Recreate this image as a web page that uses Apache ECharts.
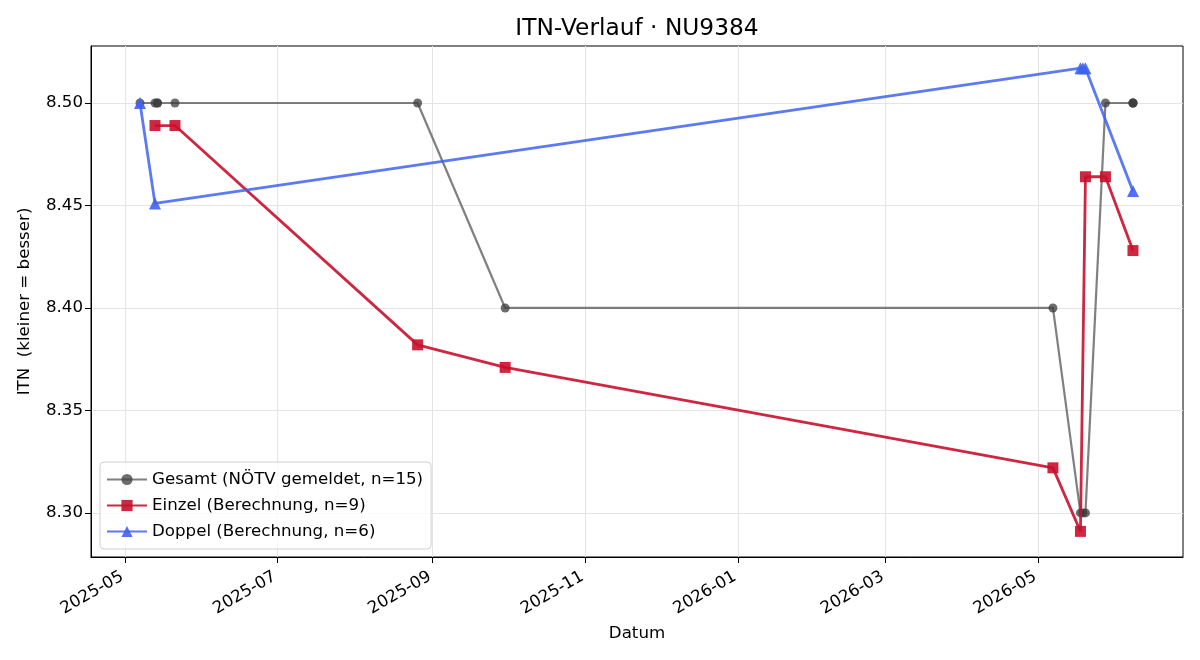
<!DOCTYPE html>
<html>
<head>
<meta charset="utf-8">
<script src="https://cdn.jsdelivr.net/npm/echarts@6/dist/echarts.min.js"></script>
<style>
  html, body { margin: 0; padding: 0; background: #fff; }
  #chart { width: 1200px; height: 660px; }
</style>
</head>
<body>
<div id="chart"></div>
<script>
// Gesamt (NÖTV gemeldet)
const gesamtDates = ["2025-05-07", "2025-05-13", "2025-05-14", "2025-05-14", "2025-05-21",
  "2025-08-26", "2025-09-30", "2026-05-07", "2026-05-18", "2026-05-19", "2026-05-20",
  "2026-05-28", "2026-06-08", "2026-06-08", "2026-06-08"];
const gesamtValues = [8.50, 8.50, 8.50, 8.50, 8.50, 8.50, 8.40, 8.40, 8.30, 8.30, 8.30,
  8.50, 8.50, 8.50, 8.50];

// Einzel (Berechnung)
const einzelDates = ["2025-05-13", "2025-05-21", "2025-08-26", "2025-09-30", "2026-05-07",
  "2026-05-18", "2026-05-20", "2026-05-28", "2026-06-08"];
const einzelValues = [8.489, 8.489, 8.382, 8.371, 8.322, 8.291, 8.464, 8.464, 8.428];

// Doppel (Berechnung)
const doppelDates = ["2025-05-07", "2025-05-13", "2026-05-18", "2026-05-19", "2026-05-20", "2026-06-08"];
const doppelValues = [8.50, 8.451, 8.517, 8.517, 8.517, 8.457];

const xTicks = ["2025-05-01", "2025-07-01", "2025-09-01", "2025-11-01", "2026-01-01", "2026-03-01", "2026-05-01"];
const yTicks = [8.30, 8.35, 8.40, 8.45, 8.50];

const font = "DejaVu Sans";
const fs = 16.67;
const ms = s => Date.UTC(+s.slice(0, 4), +s.slice(5, 7) - 1, +s.slice(8, 10));
const toPairs = (d, v) => d.map((x, i) => [ms(x), v[i]]);
const xTickMs = xTicks.map(ms);

const chart = echarts.init(document.getElementById("chart"));
const option = {
  backgroundColor: "#fff",
  animation: false,
  textStyle: { fontFamily: font },
  title: {
    text: "ITN-Verlauf · NU9384",
    left: 637,
    textAlign: "center",
    top: 17,
    padding: 0,
    textStyle: { fontFamily: font, fontSize: 23.3, fontWeight: "normal", color: "#000" },
  },
  grid: {
    left: 91, right: 17, top: 46, bottom: 103,
    show: true, borderColor: "#000", borderWidth: 1,
  },
  legend: {
    orient: "vertical",
    left: 100, top: 462,
    padding: [9, 8, 9, 6],
    itemGap: 9,
    itemWidth: 40, itemHeight: 14,
    borderColor: "#d0d0d0", borderWidth: 1, borderRadius: 4,
    backgroundColor: "rgba(255,255,255,0.8)",
    textStyle: { fontFamily: font, fontSize: fs, color: "#000" },
    data: ["Gesamt (NÖTV gemeldet, n=15)", "Einzel (Berechnung, n=9)", "Doppel (Berechnung, n=6)"],
  },
  xAxis: {
    type: "value",
    min: ms("2025-04-17") + 10 * 3600e3,
    max: ms("2026-06-28"),
    name: "Datum",
    nameLocation: "middle",
    nameGap: 68,
    nameTextStyle: { fontFamily: font, fontSize: fs, color: "#000" },
    axisLine: { show: true, lineStyle: { color: "#000", width: 1 } },
    axisTick: { show: true, length: 6, lineStyle: { color: "#000" }, customValues: xTickMs },
    axisLabel: {
      customValues: xTickMs,
      rotate: 30,
      margin: 7,
      align: "right",
      verticalAlign: "top",
      padding: [0, 8, 0, 0],
      fontFamily: font, fontSize: fs, color: "#000",
      formatter: v => {
        const d = new Date(v);
        return d.getUTCFullYear() + "-" + String(d.getUTCMonth() + 1).padStart(2, "0");
      },
    },
    splitLine: { show: true, lineStyle: { color: "#e4e4e4", width: 1 } },
  },
  yAxis: {
    type: "value",
    min: 8.2785,
    max: 8.5278,
    name: "ITN  (kleiner = besser)",
    nameLocation: "middle",
    nameGap: 58,
    nameTextStyle: { fontFamily: font, fontSize: fs, color: "#000" },
    axisLine: { show: true, lineStyle: { color: "#000", width: 1 } },
    axisTick: { show: true, length: 6, lineStyle: { color: "#000" }, customValues: yTicks },
    axisLabel: {
      customValues: yTicks,
      margin: 8,
      fontFamily: font, fontSize: fs, color: "#000",
      formatter: v => v.toFixed(2),
    },
    splitLine: { show: true, lineStyle: { color: "#e4e4e4", width: 1 } },
  },
  series: [
    {
      name: "Gesamt (NÖTV gemeldet, n=15)",
      type: "line",
      data: toPairs(gesamtDates, gesamtValues),
      symbol: "circle",
      symbolSize: 9,
      showAllSymbol: true,
      lineStyle: { color: "#555", width: 2.2, opacity: 0.75 },
      itemStyle: { color: "rgba(60,60,60,0.75)" },
      z: 2,
    },
    {
      name: "Einzel (Berechnung, n=9)",
      type: "line",
      data: toPairs(einzelDates, einzelValues),
      symbol: "rect",
      symbolSize: 11,
      showAllSymbol: true,
      lineStyle: { color: "#c8102e", width: 2.8, opacity: 0.9 },
      itemStyle: { color: "rgba(200,16,46,0.9)" },
      z: 3,
    },
    {
      name: "Doppel (Berechnung, n=6)",
      type: "line",
      data: toPairs(doppelDates, doppelValues),
      symbol: "triangle",
      symbolSize: 12,
      showAllSymbol: true,
      lineStyle: { color: "#3f63f0", width: 2.8, opacity: 0.85 },
      itemStyle: { color: "rgba(63,99,240,0.9)" },
      z: 4,
    },
  ],
};
chart.setOption(option);
</script>
</body>
</html>
